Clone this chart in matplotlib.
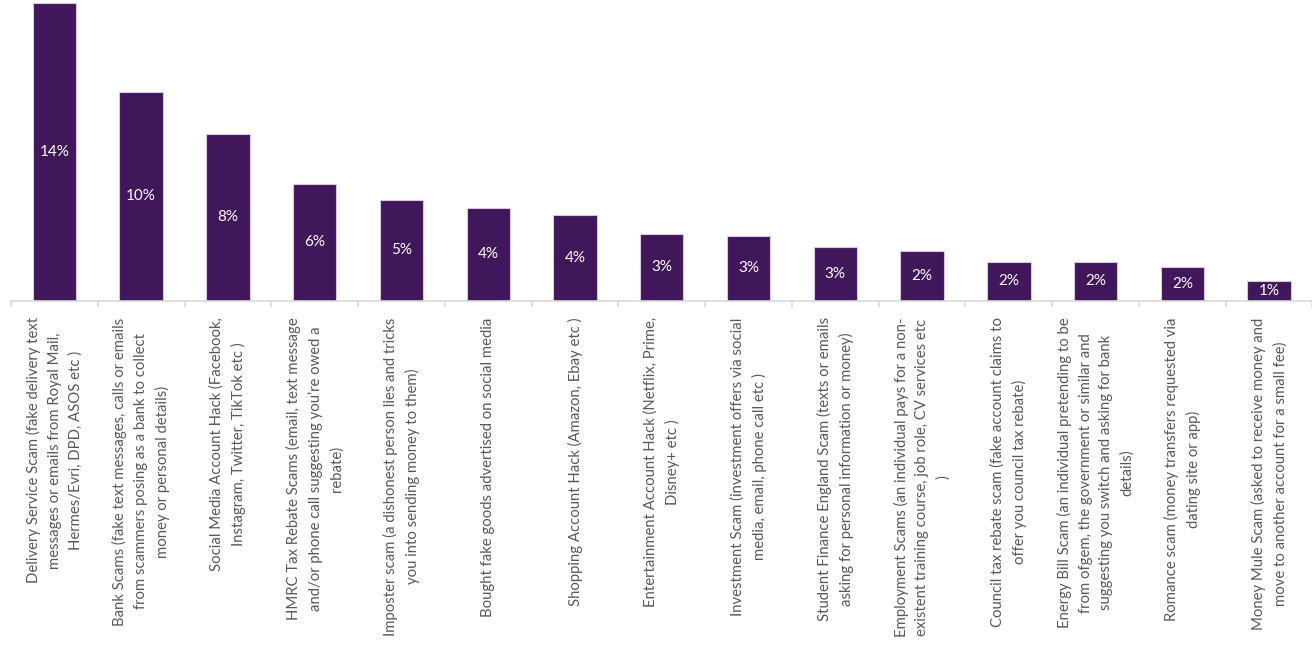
import matplotlib.pyplot as plt
import numpy as np

categories = [
    "Delivery Service Scam (fake delivery text\nmessages or emails from Royal Mail,\nHermes/Evri, DPD, ASOS etc )",
    "Bank Scams (fake text messages, calls or emails\nfrom scammers posing as a bank to collect\nmoney or personal details)",
    "Social Media Account Hack (Facebook,\nInstagram, Twitter, TikTok etc )",
    "HMRC Tax Rebate Scams (email, text message\nand/or phone call suggesting you\u2019re owed a\nrebate)",
    "Imposter scam (a dishonest person lies and tricks\nyou into sending money to them)",
    "Bought fake goods advertised on social media",
    "Shopping Account Hack (Amazon, Ebay etc )",
    "Entertainment Account Hack (Netflix, Prime,\nDisney+ etc )",
    "Investment Scam (investment offers via social\nmedia, email, phone call etc )",
    "Student Finance England Scam (texts or emails\nasking for personal information or money)",
    "Employment Scams (an individual pays for a non-\nexistent training course, job role, CV services etc\n)",
    "Council tax rebate scam (fake account claims to\noffer you council tax rebate)",
    "Energy Bill Scam (an individual pretending to be\nfrom ofgem, the government or similar and\nsuggesting you switch and asking for bank\ndetails)",
    "Romance scam (money transfers requested via\ndating site or app)",
    "Money Mule Scam (asked to receive money and\nmove to another account for a small fee)",
]
values = [14.0, 9.84, 7.86, 5.5, 4.74, 4.35, 4.03, 3.13, 3.05, 2.53, 2.33, 1.84, 1.84, 1.57, 0.93]
value_labels = ["14%", "10%", "8%", "6%", "5%", "4%", "4%", "3%", "3%", "3%", "2%", "2%", "2%", "2%", "1%"]

plt.rcParams['font.family'] = ['Lato', 'DejaVu Sans']

fig = plt.figure(figsize=(13.12, 6.46), dpi=100)
ax = fig.add_axes([11 / 1312, 1 - 300.7 / 646, 1301.5 / 1312, 300.7 / 646])

x = np.arange(len(values))
bars = ax.bar(x, values, width=0.5, color='#40175A', edgecolor='#D8C8E2', linewidth=0.8)

for b, lab in zip(bars, value_labels):
    ax.text(b.get_x() + b.get_width() / 2, b.get_height() / 2, lab,
            ha='center', va='center', color='white', fontsize=11)

ax.set_xlim(-0.5, len(values) - 0.5)
ax.set_ylim(0, 14.0 * 300.7 / 297.4)

ax.set_xticks(x)
ax.set_xticklabels(categories, rotation=90, ha='center', va='top',
                   multialignment='center', fontsize=10.7, color='#595959',
                   linespacing=1.6)
ax.set_xticks(np.arange(-0.5, len(values), 1), minor=True)
ax.tick_params(axis='x', which='major', length=0, pad=12)
ax.tick_params(axis='x', which='minor', length=4, color='#D9D9D9', width=1.2)

ax.set_yticks([])
for s in ['top', 'left', 'right']:
    ax.spines[s].set_visible(False)
ax.spines['bottom'].set_color('#D9D9D9')
ax.spines['bottom'].set_linewidth(1.2)

fig.savefig('out.png', dpi=100)
